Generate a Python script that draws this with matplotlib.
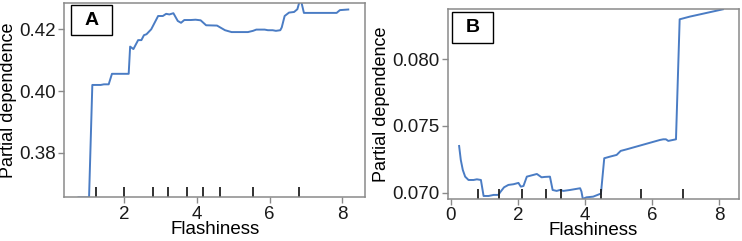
import matplotlib
matplotlib.use('Agg')
import matplotlib.pyplot as plt
from matplotlib.patches import Rectangle
from matplotlib.ticker import FormatStrFormatter

plt.rcParams['font.family'] = ['Liberation Sans', 'DejaVu Sans']
plt.rcParams['font.size'] = 13

# Painel A
a_x = [0.74, 1.03, 1.12, 1.35, 1.44, 1.57, 1.66, 2.12, 2.16, 2.25, 2.38, 2.47, 2.54, 2.61, 2.74,
       2.93, 3.06, 3.15, 3.24, 3.35, 3.47, 3.56, 3.65, 3.83, 3.96, 4.10, 4.25, 4.55, 4.77, 4.95,
       5.40, 5.54, 5.63, 5.86, 5.95, 6.08, 6.17, 6.29, 6.33, 6.41, 6.53, 6.67, 6.76, 6.82, 6.87,
       6.94, 7.84, 7.93, 8.16]
a_y = [0.3656, 0.3656, 0.4020, 0.4020, 0.4022, 0.4022, 0.4056, 0.4056, 0.4144, 0.4136, 0.4165,
       0.4165, 0.4181, 0.4184, 0.4200, 0.4243, 0.4243, 0.4250, 0.4248, 0.4252, 0.4227, 0.4221,
       0.4230, 0.4230, 0.4231, 0.4229, 0.4213, 0.4212, 0.4197, 0.4191, 0.4191, 0.4195, 0.4199,
       0.4199, 0.4197, 0.4197, 0.4195, 0.4197, 0.4206, 0.4243, 0.4254, 0.4256, 0.4265, 0.4290,
       0.4288, 0.4253, 0.4253, 0.4262, 0.4264]
a_decis = [1.22, 2.0, 2.80, 3.21, 3.73, 4.17, 4.63, 5.53, 6.8]

# Painel B
b_x = [0.25, 0.30, 0.36, 0.43, 0.53, 0.68, 0.78, 0.90, 0.98, 1.13, 1.28, 1.42, 1.49, 1.59, 1.72,
       1.87, 2.02, 2.09, 2.17, 2.27, 2.42, 2.57, 2.71, 2.81, 2.96, 3.04, 3.16, 3.26, 3.36, 3.56,
       3.86, 3.90, 3.94, 4.05, 4.25, 4.45, 4.48, 4.58, 4.75, 4.95, 5.07, 5.25, 6.24, 6.34, 6.42,
       6.49, 6.72, 6.83, 7.13, 8.12]
b_y = [0.07350, 0.07245, 0.07170, 0.07120, 0.07095, 0.07095, 0.07100, 0.07095, 0.06975, 0.06975,
       0.06983, 0.06983, 0.07008, 0.07040, 0.07058, 0.07063, 0.07073, 0.07045, 0.07050, 0.07120,
       0.07130, 0.07140, 0.07115, 0.07118, 0.07120, 0.07020, 0.07013, 0.07020, 0.07013, 0.07020,
       0.07033, 0.07008, 0.06953, 0.06965, 0.06970, 0.06990, 0.06990, 0.07258, 0.07270, 0.07283,
       0.07313, 0.07325, 0.07395, 0.07400, 0.07400, 0.07388, 0.07400, 0.08300, 0.08320, 0.08375]
b_decis = [0.82, 1.43, 2.12, 2.83, 3.28, 4.48, 5.69, 6.93]

linha = '#4a7cc4'
cinza = '#8a8a8a'

fig = plt.figure(figsize=(7.42, 2.41), dpi=100)
axA = fig.add_axes([0.0867, 0.1805, 0.4052, 0.8083])
axB = fig.add_axes([0.6034, 0.1763, 0.3930, 0.7851])


def estilo(ax, xs, ys, decis, xlim, ylim, xticks, yticks, fmt, letra, caixa):
    ax.plot(xs, ys, color=linha, lw=1.4, clip_on=True)
    ax.vlines(decis, 0, 0.052, color='#222222', lw=1.3, transform=ax.get_xaxis_transform())
    ax.set_xlim(*xlim)
    ax.set_ylim(*ylim)
    ax.set_xticks(xticks)
    ax.set_yticks(yticks)
    ax.yaxis.set_major_formatter(FormatStrFormatter(fmt))
    for s in ax.spines.values():
        s.set_color(cinza)
        s.set_linewidth(1.1)
    ax.tick_params(direction='out', length=4, width=1, color=cinza, labelcolor='#1a1a1a',
                   labelsize=13.5, pad=2)
    ax.set_xlabel('Flashiness', fontsize=13.5, labelpad=-1)
    ax.set_ylabel('Partial dependence', fontsize=13, labelpad=1.5)
    x0, y0, w, h = caixa
    ax.add_patch(Rectangle((x0, y0), w, h, transform=ax.transAxes, facecolor='white',
                           edgecolor='black', lw=1.0, zorder=5))
    ax.text(x0 + w / 2, y0 + h / 2, letra, transform=ax.transAxes, ha='center', va='center',
            fontsize=14, fontweight='bold', zorder=6)


estilo(axA, a_x, a_y, a_decis, (0.35, 8.62), (0.3656, 0.4286), [2, 4, 6, 8],
       [0.38, 0.40, 0.42], '%.2f', 'A', (0.0223, 0.834, 0.1364, 0.154))
estilo(axB, b_x, b_y, b_decis, (-0.09, 8.61), (0.06956, 0.08375), [0, 2, 4, 6, 8],
       [0.070, 0.075, 0.080], '%.3f', 'B', (0.0158, 0.822, 0.139, 0.165))

plt.savefig('out.png', dpi=100)
